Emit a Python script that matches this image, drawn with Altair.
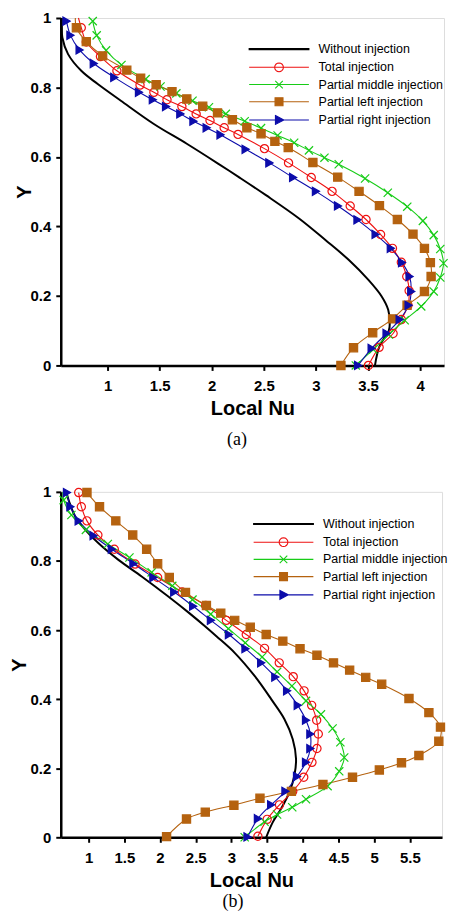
import altair as alt
import pandas as pd
import math

SERIES = ["Without injection", "Total injection", "Partial middle injection",
          "Partial left injection", "Partial right injection"]
COLORS = ["#000000", "#ee1111", "#17cc17", "#b5620f", "#0c0caa"]

# ---------------- panel (a) ----------------
A_WITHOUT_Y = [1.0, 0.97, 0.944, 0.896, 0.848, 0.81, 0.762, 0.695, 0.638, 0.581, 0.542, 0.49,
               0.423, 0.361, 0.304, 0.246, 0.199, 0.16, 0.122, 0.10, 0.055, 0.0]
A_WITHOUT_X = [0.56, 0.56, 0.565, 0.62, 0.747, 0.905, 1.127, 1.444, 1.76, 2.06, 2.26, 2.52,
               2.838, 3.091, 3.314, 3.504, 3.63, 3.694, 3.709, 3.70, 3.61, 3.567]

A_TOTAL_Y = [1.0, 0.972, 0.931, 0.889, 0.848, 0.807, 0.786, 0.765, 0.745, 0.724, 0.705, 0.684,
             0.665, 0.624, 0.583, 0.541, 0.501, 0.459, 0.420, 0.377, 0.337, 0.297, 0.256, 0.215,
             0.173, 0.132, 0.092, 0.052, 0.0]
A_TOTAL_X = [0.72, 0.747, 0.795, 0.931, 1.089, 1.311, 1.444, 1.570, 1.713, 1.850, 1.983, 2.119,
             2.252, 2.506, 2.737, 2.955, 3.155, 3.329, 3.481, 3.621, 3.735, 3.820, 3.872, 3.895,
             3.884, 3.820, 3.741, 3.607, 3.504]

A_MIDDLE_Y = [0.991, 0.950, 0.907, 0.865, 0.824, 0.803, 0.783, 0.762, 0.743, 0.724, 0.703, 0.683,
              0.662, 0.641, 0.619, 0.598, 0.579, 0.538, 0.497, 0.457, 0.416, 0.375, 0.335, 0.294,
              0.253, 0.213, 0.170, 0.130, 0.089, 0.046, 0.0]
A_MIDDLE_X = [0.857, 0.895, 0.985, 1.133, 1.365, 1.508, 1.660, 1.815, 1.973, 2.135, 2.316, 2.473,
              2.632, 2.791, 2.933, 3.082, 3.219, 3.472, 3.690, 3.877, 4.027, 4.131, 4.194, 4.225,
              4.194, 4.131, 4.011, 3.852, 3.700, 3.551, 3.383]

A_LEFT_Y = [1.0, 0.972, 0.932, 0.891, 0.850, 0.827, 0.808, 0.788, 0.767, 0.746, 0.727, 0.707,
            0.684, 0.667, 0.645, 0.627, 0.584, 0.542, 0.501, 0.460, 0.420, 0.378, 0.337, 0.296,
            0.256, 0.213, 0.173, 0.134, 0.094, 0.051, 0.0]
A_LEFT_X = [0.69, 0.700, 0.795, 0.952, 1.184, 1.317, 1.466, 1.618, 1.760, 1.913, 2.055, 2.198,
            2.337, 2.473, 2.606, 2.734, 2.971, 3.209, 3.414, 3.61, 3.782, 3.932, 4.042, 4.099,
            4.106, 4.042, 3.875, 3.736, 3.545, 3.361, 3.240]

A_RIGHT_Y = [0.991, 0.950, 0.908, 0.869, 0.829, 0.786, 0.765, 0.745, 0.724, 0.703, 0.684, 0.664,
             0.622, 0.583, 0.541, 0.501, 0.459, 0.419, 0.377, 0.337, 0.296, 0.256, 0.213, 0.173,
             0.132, 0.092, 0.049, 0.0]
A_RIGHT_X = [0.605, 0.643, 0.731, 0.867, 1.064, 1.301, 1.434, 1.561, 1.698, 1.824, 1.951, 2.084,
             2.325, 2.553, 2.781, 3.0, 3.212, 3.399, 3.573, 3.719, 3.827, 3.899, 3.915, 3.890,
             3.804, 3.678, 3.535, 3.405]

# ---------------- panel (b) ----------------
B_WITHOUT_Y = [1.0, 0.976, 0.928, 0.890, 0.851, 0.803, 0.755, 0.697, 0.649, 0.611, 0.582, 0.534,
               0.467, 0.400, 0.342, 0.284, 0.227, 0.179, 0.131, 0.083, 0.044, 0.0]
B_WITHOUT_X = [0.69, 0.72, 0.815, 0.954, 1.139, 1.418, 1.743, 2.116, 2.41, 2.63, 2.79, 3.046,
               3.325, 3.557, 3.743, 3.859, 3.905, 3.882, 3.813, 3.696, 3.58, 3.487]

B_TOTAL_Y = [0.998, 0.957, 0.916, 0.875, 0.834, 0.791, 0.752, 0.710, 0.671, 0.628, 0.587, 0.547,
             0.505, 0.465, 0.424, 0.382, 0.339, 0.299, 0.257, 0.217, 0.174, 0.133, 0.094, 0.052, 0.003]
B_TOTAL_X = [0.861, 0.898, 0.977, 1.13, 1.36, 1.651, 1.967, 2.31, 2.64, 2.929, 3.208, 3.464,
             3.67, 3.866, 4.018, 4.124, 4.194, 4.217, 4.198, 4.128, 4.013, 3.859, 3.673, 3.501, 3.371]

B_MIDDLE_Y = [1.0, 0.976, 0.933, 0.890, 0.849, 0.810, 0.767, 0.728, 0.688, 0.646, 0.604, 0.563,
              0.522, 0.479, 0.438, 0.395, 0.356, 0.315, 0.275, 0.231, 0.191, 0.148, 0.110, 0.087,
              0.066, 0.045, 0.0]
B_MIDDLE_X = [0.64, 0.651, 0.759, 0.962, 1.269, 1.572, 1.883, 2.172, 2.455, 2.711, 2.958, 3.194,
              3.43, 3.64, 3.847, 4.045, 4.254, 4.417, 4.526, 4.58, 4.51, 4.347, 4.045, 3.852,
              3.64, 3.464, 3.186]

B_LEFT_Y = [0.998, 0.957, 0.916, 0.875, 0.834, 0.792, 0.752, 0.709, 0.671, 0.649, 0.628, 0.608,
            0.587, 0.568, 0.546, 0.527, 0.505, 0.484, 0.463, 0.443, 0.402, 0.361, 0.319, 0.278,
            0.237, 0.216, 0.195, 0.174, 0.153, 0.133, 0.113, 0.093, 0.073, 0.053, 0.002]
B_LEFT_X = [0.977, 1.153, 1.381, 1.618, 1.813, 1.967, 2.13, 2.357, 2.65, 2.851, 3.046, 3.264,
            3.487, 3.72, 3.961, 4.198, 4.43, 4.656, 4.881, 5.105, 5.487, 5.766, 5.928, 5.905,
            5.626, 5.382, 5.072, 4.696, 4.282, 3.84, 3.40, 3.035, 2.634, 2.371, 2.092]

B_RIGHT_Y = [0.998, 0.957, 0.916, 0.873, 0.834, 0.792, 0.752, 0.710, 0.669, 0.628, 0.587, 0.546,
             0.505, 0.464, 0.424, 0.382, 0.339, 0.299, 0.257, 0.217, 0.176, 0.133, 0.094, 0.054, 0.001]
B_RIGHT_X = [0.697, 0.745, 0.861, 1.07, 1.325, 1.628, 1.907, 2.199, 2.464, 2.713, 2.965, 3.197,
             3.417, 3.615, 3.78, 3.929, 4.045, 4.106, 4.106, 4.045, 3.919, 3.757, 3.557, 3.371, 3.226]

# first point of these curves is a line end without a marker
LINE_ONLY_FIRST = {("a", "Total injection"), ("a", "Partial left injection"),
                   ("b", "Partial middle injection")}

A_X_DOMAIN = [0.55, 4.23]
B_X_DOMAIN = [0.61, 5.95]
A_X_TICKS = [1, 1.5, 2, 2.5, 3, 3.5, 4]
B_X_TICKS = [1, 1.5, 2, 2.5, 3, 3.5, 4, 4.5, 5, 5.5]
Y_TICKS = [0, 0.2, 0.4, 0.6, 0.8, 1]


def build(panel, curves):
    rows = []
    for s, (xs, ys) in zip(SERIES, curves):
        for i, (xv, yv) in enumerate(zip(xs, ys)):
            m = 1
            if s == "Without injection":
                m = 0
            if i == 0 and (panel, s) in LINE_ONLY_FIRST:
                m = 0
            rows.append({"series": s, "x": xv, "y": yv, "i": i, "m": m})
    return pd.DataFrame(rows)


df_a = build("a", [(A_WITHOUT_X, A_WITHOUT_Y), (A_TOTAL_X, A_TOTAL_Y), (A_MIDDLE_X, A_MIDDLE_Y),
                   (A_LEFT_X, A_LEFT_Y), (A_RIGHT_X, A_RIGHT_Y)])
df_b = build("b", [(B_WITHOUT_X, B_WITHOUT_Y), (B_TOTAL_X, B_TOTAL_Y), (B_MIDDLE_X, B_MIDDLE_Y),
                   (B_LEFT_X, B_LEFT_Y), (B_RIGHT_X, B_RIGHT_Y)])

# ---------- legend symbols: a line with the marker in its middle ----------
circ = "M1.1,0" + "".join(
    "L%.3f,%.3f" % (1.1 * math.cos(k * math.pi / 8), 1.1 * math.sin(k * math.pi / 8))
    for k in range(1, 16)) + "Z"
LINE = "M-7.5,0L7.5,0"
LEG_SHAPES = ["M-7.5,-0.12L7.5,-0.12L7.5,0.12L-7.5,0.12Z",
              LINE + circ,
              LINE + "M-0.95,-0.95L0.95,0.95M0.95,-0.95L-0.95,0.95",
              LINE + "M-1,-1L1,-1L1,1L-1,1Z",
              LINE + "M-0.9,-1.1L1.2,0L-0.9,1.1Z"]
LEG_FILLS = [COLORS[0], "transparent", "transparent", COLORS[3], COLORS[4]]


def pick(vals):
    expr = ""
    for s, v in zip(SERIES, vals):
        expr += "datum.value === '%s' ? '%s' : " % (s, v)
    return expr + "'%s'" % vals[0]


MARKED = SERIES[1:]
PT_SHAPES = ["circle", "M-1,-1L1,1M1,-1L-1,1", "square", "triangle-right"]
PT_FILLS = ["transparent", "transparent", COLORS[3], COLORS[4]]

FONT = "Liberation Sans"


def panel(df, xdom, xticks, w, h, caption, cap_dx, cap_off, legx, legy, ypad):
    base = alt.Chart(df)
    x = alt.X("x:Q", scale=alt.Scale(domain=xdom, nice=False, zero=False),
              axis=alt.Axis(values=xticks, format="~g", title="Local Nu", grid=False,
                            labelFont=FONT, labelFontSize=15, labelFontWeight="bold",
                            labelColor="black", titleFont=FONT, titleFontSize=20,
                            titleFontWeight="bold", titleColor="black", domainColor="black",
                            domainWidth=2.5, tickColor="black", tickWidth=2, tickSize=5,
                            labelPadding=8, titlePadding=5, labelOverlap=False, labelFlush=False))
    y = alt.Y("y:Q", scale=alt.Scale(domain=[0, 1], nice=False),
              axis=alt.Axis(values=Y_TICKS, format="~g", title="Y", grid=False,
                            labelFont=FONT, labelFontSize=15, labelFontWeight="bold",
                            labelColor="black", titleFont=FONT, titleFontSize=20,
                            titleFontWeight="bold", titleColor="black", domainColor="black",
                            domainWidth=2.5, tickColor="black", tickWidth=2, tickSize=5,
                            labelPadding=5, titlePadding=ypad, labelOverlap=False, labelFlush=False))
    legend = alt.Legend(
        title=None, orient="none", legendX=legx, legendY=legy, padding=0,
        symbolSize=64, symbolStrokeWidth=1.1, labelFont=FONT, labelFontSize=12.5,
        labelColor="black", labelOffset=33.5, rowPadding=4.3, labelLimit=300,
        symbolOpacity=1,
        symbolType={"expr": pick(LEG_SHAPES)},
        symbolFillColor={"expr": pick(LEG_FILLS)})
    color = alt.Color("series:N", scale=alt.Scale(domain=SERIES, range=COLORS), legend=legend)

    black = base.transform_filter("datum.series == 'Without injection'").mark_line(
        interpolate="catmull-rom", strokeWidth=2).encode(x=x, y=y, color=color, order="i:Q")
    lines = base.transform_filter("datum.series != 'Without injection'").mark_line(
        interpolate="catmull-rom", strokeWidth=1.1).encode(x=x, y=y, color=color, order="i:Q")
    pts = base.transform_filter("datum.m == 1").mark_point(size=68, strokeWidth=1.2, opacity=1).encode(
        x=x, y=y, color=color,
        shape=alt.Shape("series:N", scale=alt.Scale(domain=MARKED, range=PT_SHAPES), legend=None),
        fill=alt.Fill("series:N", scale=alt.Scale(domain=MARKED, range=PT_FILLS), legend=None))
    return alt.layer(black, lines, pts).properties(
        width=w, height=h,
        title=alt.TitleParams(caption, orient="bottom", frame="group", anchor="middle",
                              font="Liberation Serif", fontSize=18, fontWeight="normal",
                              color="black", dx=cap_dx, offset=cap_off))


pa = panel(df_a, A_X_DOMAIN, A_X_TICKS, 385, 349, "(a)", -15.5, 13, 213, 25, -4)
pb = panel(df_b, B_X_DOMAIN, B_X_TICKS, 383, 347, "(b)", -18.5, 3, 217.5, 26, 1)

chart = alt.vconcat(pa, pb, spacing=34).resolve_scale(
    color="independent", shape="independent", fill="independent"
).resolve_legend(color="independent").properties(
    padding={"left": 0, "top": 0, "right": 0, "bottom": 0}
).configure_view(stroke=None).configure(background="white")

chart.save("out.html", embed_options={"renderer": "svg", "actions": False})
